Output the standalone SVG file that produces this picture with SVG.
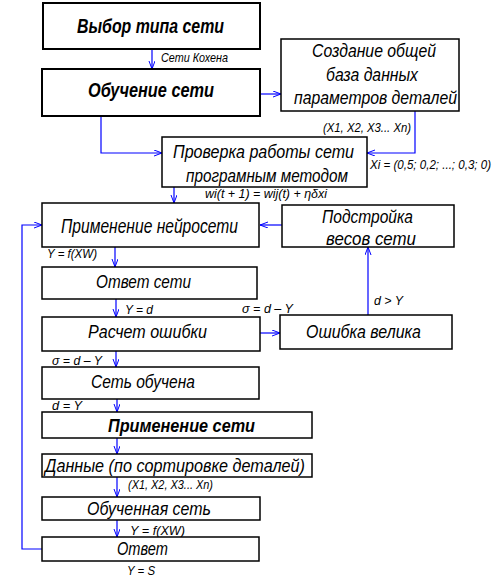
<svg xmlns="http://www.w3.org/2000/svg" width="501" height="579" viewBox="0 0 501 579">
<style>
.box{fill:#fff;stroke:#000;stroke-width:1.5}
.bx2{fill:#fff;stroke:#000;stroke-width:2}
.t{font-family:"Liberation Sans",Arial,sans-serif;font-style:italic;fill:#000;text-anchor:middle}
.b{font-weight:bold}
.l{font-family:"Liberation Sans",Arial,sans-serif;font-style:italic;fill:#000;font-size:13px}
.c{fill:none;stroke:#0000ff;stroke-width:1.2}
</style>
<defs>
<marker id="ar" markerUnits="userSpaceOnUse" markerWidth="10" markerHeight="8" refX="8" refY="3" orient="auto">
<path d="M0,0 L8,3 L0,6" fill="none" stroke="#0000ff" stroke-width="1"/>
</marker>
</defs>
<rect width="501" height="579" fill="#fff"/>
<g id="connectors">
<path class="c" d="M152,49 V69" marker-end="url(#ar)"/>
<path class="c" d="M260,94 H281" marker-end="url(#ar)"/>
<path class="c" d="M101,116 V153 H162" marker-end="url(#ar)"/>
<path class="c" d="M415,111 V153 H367" marker-end="url(#ar)"/>
<path class="c" d="M174,187 V203" marker-end="url(#ar)"/>
<path class="c" d="M282,225 H260" marker-end="url(#ar)"/>
<path class="c" d="M368,315 V247" marker-end="url(#ar)"/>
<path class="c" d="M115,247 V267" marker-end="url(#ar)"/>
<path class="c" d="M116,299 V317" marker-end="url(#ar)"/>
<path class="c" d="M260,333 H280" marker-end="url(#ar)"/>
<path class="c" d="M116,351 V367" marker-end="url(#ar)"/>
<path class="c" d="M117,399 V412" marker-end="url(#ar)"/>
<path class="c" d="M117,438 V454" marker-end="url(#ar)"/>
<path class="c" d="M117,477 V497" marker-end="url(#ar)"/>
<path class="c" d="M117,520 V537" marker-end="url(#ar)"/>
<path class="c" d="M42,549 H22 V225 H42" marker-end="url(#ar)"/>
<text class="l" x="161" y="62" textLength="67" lengthAdjust="spacingAndGlyphs">Сети Кохена</text>
<text class="l" x="323" y="132" textLength="88" lengthAdjust="spacingAndGlyphs">(X1, X2, X3... Xn)</text>
<text class="l" x="370" y="169" font-size="12" style="font-size:12px" textLength="121" lengthAdjust="spacingAndGlyphs">Xi = (0,5; 0,2; ...; 0,3; 0)</text>
<text class="l" x="205" y="198" textLength="122" lengthAdjust="spacingAndGlyphs">wi(t + 1) = wij(t) + ηδxi</text>
<text class="l" x="47" y="258" textLength="50" lengthAdjust="spacingAndGlyphs">Y = f(XW)</text>
<text class="l" x="125" y="314" textLength="28" lengthAdjust="spacingAndGlyphs">Y = d</text>
<text class="l" x="242" y="313" textLength="51" lengthAdjust="spacingAndGlyphs">σ = d – Y</text>
<text class="l" x="374" y="305" textLength="29" lengthAdjust="spacingAndGlyphs">d &gt; Y</text>
<text class="l" x="52" y="365" textLength="50" lengthAdjust="spacingAndGlyphs">σ = d – Y</text>
<text class="l" x="52" y="410" textLength="30" lengthAdjust="spacingAndGlyphs">d = Y</text>
<text class="l" x="128" y="489" textLength="85" lengthAdjust="spacingAndGlyphs">(X1, X2, X3... Xn)</text>
<text class="l" x="130" y="535" textLength="55" lengthAdjust="spacingAndGlyphs">Y = f(XW)</text>
<text class="l" x="127" y="575" textLength="28" lengthAdjust="spacingAndGlyphs">Y = S</text>
</g>
<g id="n1"><rect class="bx2" x="43" y="3" width="217" height="46"/>
<text class="t b" x="150.5" y="33" font-size="21" textLength="147" lengthAdjust="spacingAndGlyphs">Выбор типа сети</text></g>
<g id="n2"><rect class="bx2" x="42" y="69" width="218" height="47"/>
<text class="t b" x="151" y="97" font-size="20" textLength="126" lengthAdjust="spacingAndGlyphs">Обучение сети</text></g>
<g id="n3"><rect class="box" x="281" y="39" width="178" height="72"/>
<text class="t" x="374" y="57" font-size="19" textLength="124" lengthAdjust="spacingAndGlyphs">Создание общей</text>
<text class="t" x="372" y="81" font-size="19" textLength="92" lengthAdjust="spacingAndGlyphs">база данных</text>
<text class="t" x="375.5" y="104" font-size="19" textLength="163" lengthAdjust="spacingAndGlyphs">параметров деталей</text></g>
<g id="n4"><rect class="box" x="162" y="137" width="205" height="50"/>
<text class="t" x="263.5" y="158" font-size="19" textLength="181" lengthAdjust="spacingAndGlyphs">Проверка работы сети</text>
<text class="t" x="267" y="182" font-size="19" textLength="162" lengthAdjust="spacingAndGlyphs">програмным методом</text></g>
<g id="n5"><rect class="box" x="42" y="203" width="217" height="44"/>
<text class="t" x="149.5" y="233" font-size="20" textLength="177" lengthAdjust="spacingAndGlyphs">Применение нейросети</text></g>
<g id="n6"><rect class="box" x="282" y="205" width="172" height="42"/>
<text class="t" x="367.5" y="223" font-size="19" textLength="91" lengthAdjust="spacingAndGlyphs">Подстройка</text>
<text class="t" x="371" y="245" font-size="19" textLength="90" lengthAdjust="spacingAndGlyphs">весов сети</text></g>
<g id="n7"><rect class="box" x="42" y="267" width="215" height="32"/>
<text class="t" x="143.5" y="288" font-size="18" textLength="95" lengthAdjust="spacingAndGlyphs">Ответ сети</text></g>
<g id="n8"><rect class="box" x="42" y="317" width="218" height="34"/>
<text class="t" x="147.5" y="338" font-size="19" textLength="119" lengthAdjust="spacingAndGlyphs">Расчет ошибки</text></g>
<g id="n9"><rect class="box" x="280" y="315" width="172" height="34"/>
<text class="t" x="363.5" y="338" font-size="19" textLength="115" lengthAdjust="spacingAndGlyphs">Ошибка велика</text></g>
<g id="n10"><rect class="box" x="42" y="367" width="217" height="32"/>
<text class="t" x="143" y="388" font-size="18" textLength="104" lengthAdjust="spacingAndGlyphs">Сеть обучена</text></g>
<g id="n11"><rect class="box" x="42" y="412" width="270" height="26"/>
<text class="t b" x="181.5" y="432" font-size="19" textLength="147" lengthAdjust="spacingAndGlyphs">Применение сети</text></g>
<g id="n12"><rect class="box" x="42" y="454" width="270" height="23"/>
<text class="t" x="175" y="472" font-size="19" textLength="260" lengthAdjust="spacingAndGlyphs">Данные (по сортировке деталей)</text></g>
<g id="n13"><rect class="box" x="42" y="497" width="218" height="23"/>
<text class="t" x="149" y="515" font-size="18" textLength="124" lengthAdjust="spacingAndGlyphs">Обученная сеть</text></g>
<g id="n14"><rect class="box" x="42" y="537" width="217" height="24"/>
<text class="t" x="142.5" y="555" font-size="18" textLength="51" lengthAdjust="spacingAndGlyphs">Ответ</text></g>
</svg>
